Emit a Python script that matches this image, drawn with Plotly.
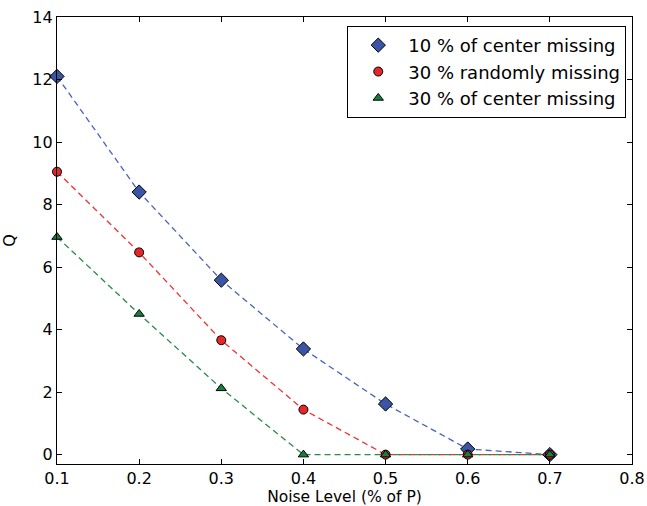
import plotly.graph_objects as go

noise = [0.1, 0.2, 0.3, 0.4, 0.5, 0.6, 0.7]
center10 = [12.1, 8.4, 5.58, 3.38, 1.62, 0.18, 0.0]
random30 = [9.05, 6.47, 3.66, 1.44, 0.0, 0.0, 0.0]
center30 = [6.96, 4.5, 2.12, 0.0, 0.0, 0.0, 0.0]

series = [
    ("10 % of center missing", center10, "#3a55a5", "#4a62c0", "diamond", 11),
    ("30 % randomly missing", random30, "#e8262a", "#ee3333", "circle", 9),
    ("30 % of center missing", center30, "#16803c", "#2a8a48", "triangle-up", 9),
]

fig = go.Figure()
for name, ys, mc, lc, sym, sz in series:
    fig.add_trace(go.Scatter(x=noise, y=ys, mode="lines", showlegend=False,
                             line=dict(color=lc, width=1.3, dash="6px,4px"),
                             hoverinfo="skip"))
for name, ys, mc, lc, sym, sz in series:
    fig.add_trace(go.Scatter(x=noise, y=ys, mode="markers", name=name,
                             marker=dict(symbol=sym, size=sz, color=mc,
                                         line=dict(color="black", width=1)),
                             cliponaxis=False))

axis_common = dict(showline=True, linecolor="black", linewidth=1.2, mirror="ticks",
                   ticks="inside", ticklen=5, tickcolor="black", showgrid=False,
                   zeroline=False, automargin=False, ticklabeloverflow="allow",
                   tickfont=dict(family="DejaVu Sans", size=16, color="black"))

fig.update_layout(
    width=647, height=506,
    margin=dict(l=57, r=15, t=17, b=42),
    plot_bgcolor="white", paper_bgcolor="white",
    font=dict(family="DejaVu Sans", color="black"),
    xaxis=dict(range=[0.1, 0.8], tickvals=[0.1, 0.2, 0.3, 0.4, 0.5, 0.6, 0.7, 0.8],
               ticktext=["0.1", "0.2", "0.3", "0.4", "0.5", "0.6", "0.7", "0.8"],
               title=dict(text="Noise Level (% of P)", font=dict(size=15.5), standoff=6),
               **axis_common),
    yaxis=dict(range=[-0.3, 14], tickvals=[0, 2, 4, 6, 8, 10, 12, 14],
               title=dict(text="Q", font=dict(size=16), standoff=24),
               **axis_common),
    legend=dict(x=0.99, xanchor="right", y=0.98, yanchor="top",
                bordercolor="black", borderwidth=1, bgcolor="white",
                font=dict(family="DejaVu Sans", size=18, color="black"),
                itemwidth=50),
)

fig.write_html("out.html", config={"displayModeBar": False},
               post_script="document.body.style.margin='0';document.body.style.overflow='hidden';")
